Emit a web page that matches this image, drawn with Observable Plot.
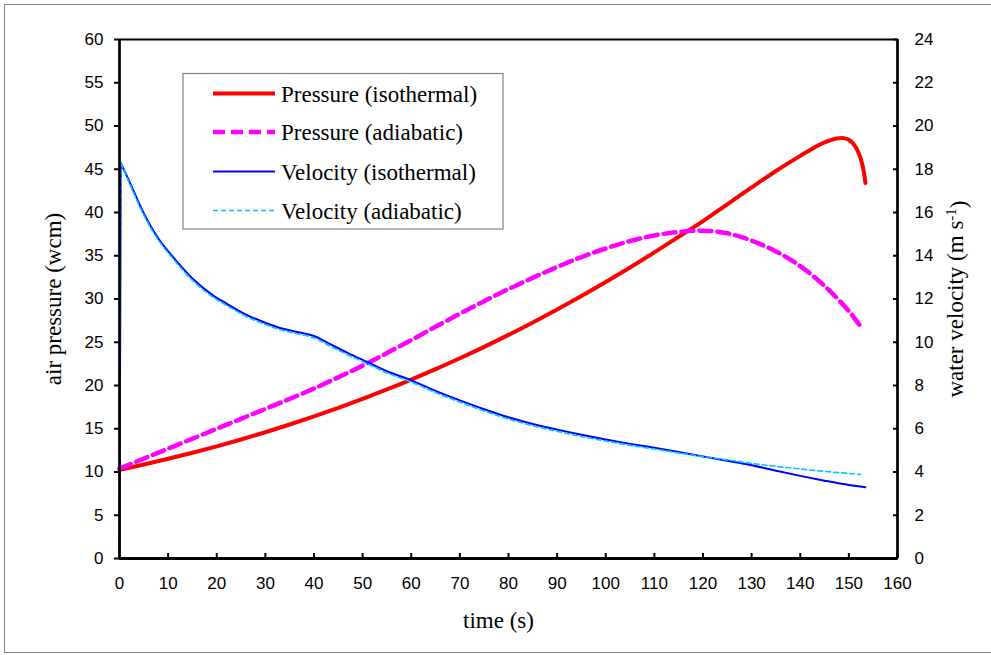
<!DOCTYPE html>
<html><head><meta charset="utf-8">
<script src="https://cdn.jsdelivr.net/npm/d3@7"></script>
<script src="https://cdn.jsdelivr.net/npm/@observablehq/plot@0.6"></script>
<style>
html,body{margin:0;padding:0;background:#fff;}
#wrap{position:relative;width:991px;height:655px;overflow:hidden;background:#fff;}
#border{position:absolute;left:4px;top:4px;width:1010px;height:649px;border:1.5px solid #808080;box-sizing:border-box;pointer-events:none;}
#legend{position:absolute;left:0;top:0;pointer-events:none;}
</style></head><body><div id="wrap"><div id="border"></div></div>
<script>
// time ticks / axis ticks
const xTicks = [0,10,20,30,40,50,60,70,80,90,100,110,120,130,140,150,160];
const yTicksLeft = [0,5,10,15,20,25,30,35,40,45,50,55,60];
const velocityToPressure = 60 / 24; // right axis 0-24 m/s shares the 0-60 wcm frame

// Pressure (isothermal), wcm
const tPressIso = [0,5,10,15,20,25,30,35,40,45,50,55,60,65,70,75,80,85,90,95,100,105,110,115,120,125,130,135,140,143,145,147.5,149,150,151,152,152.7,153.1,153.4];
const pressIso  = [10.25,10.87,11.53,12.23,12.97,13.76,14.6,15.49,16.43,17.42,18.46,19.55,20.69,21.89,23.15,24.47,25.85,27.29,28.79,30.35,31.97,33.65,35.39,37.19,39.0,40.95,42.9,44.8,46.55,47.55,48.1,48.55,48.6,48.4,47.9,46.9,45.7,44.6,43.4];

// Pressure (adiabatic), wcm
const tPressAdi = [0,5,10,15,20,25,30,35,40,45,50,55,60,65,70,75,80,85,90,95,100,105,110,115,120,125,130,135,140,145,150,152.3];
const pressAdi  = [10.4,11.55,12.7,13.85,15.0,16.15,17.3,18.45,19.65,20.95,22.3,23.75,25.25,26.8,28.3,29.75,31.15,32.45,33.7,34.85,35.85,36.7,37.35,37.75,37.9,37.6,36.75,35.5,33.8,31.5,28.6,26.9];

// Velocity (isothermal), m/s
const tVelIso = [0,0.25,2,5,8,12,15,19,22,26,30,33,36,40,43,47,51,55,60,65,70,75,80,85,90,95,100,105,110,115,120,125,130,135,140,145,150,153.4];
const velIso  = [0,18.3,17.45,15.96,14.8,13.68,12.95,12.2,11.79,11.28,10.9,10.66,10.5,10.29,9.95,9.5,9.08,8.66,8.24,7.75,7.31,6.9,6.53,6.22,5.96,5.72,5.5,5.3,5.12,4.92,4.72,4.52,4.31,4.06,3.82,3.6,3.4,3.3];

// Velocity (adiabatic), m/s
const tVelAdi = [0,0.25,2,5,8,12,15,19,22,26,30,33,36,40,43,47,51,55,60,65,70,75,80,85,90,95,100,105,110,115,120,125,130,135,140,145,150,152.4];
const velAdi  = [0,18.3,17.38,15.88,14.72,13.6,12.86,12.12,11.71,11.2,10.82,10.58,10.42,10.2,9.86,9.41,9.0,8.58,8.16,7.67,7.23,6.82,6.45,6.14,5.88,5.64,5.43,5.23,5.06,4.88,4.71,4.56,4.4,4.26,4.14,4.03,3.93,3.89];

const legendLabels = ["Pressure (isothermal)","Pressure (adiabatic)","Velocity (isothermal)","Velocity (adiabatic)"];

const styles = [
  {stroke:"#FF0000", strokeWidth:4, dash:null},
  {stroke:"#FF00FF", strokeWidth:4.5, dash:"12,6"},
  {stroke:"#0000FF", strokeWidth:2, dash:null},
  {stroke:"#00C8FF", strokeWidth:1.6, dash:"5,3"}
];

const zip = (ts, vs) => ts.map((t,i) => ({t, v: vs[i]}));
const dPI = zip(tPressIso, pressIso);
const dPA = zip(tPressAdi, pressAdi);
const dVI = zip(tVelIso, velIso);
const dVA = zip(tVelAdi, velAdi);

const serif = "'Liberation Serif','Times New Roman',serif";
const sans = "'Liberation Sans',Arial,sans-serif";
const vy = d => d.v * velocityToPressure;

const chart = Plot.plot({
  width: 991, height: 655,
  marginLeft: 119, marginRight: 94, marginTop: 39, marginBottom: 97,
  x: {domain: [0,160]},
  y: {domain: [0,60]},
  style: {background: "transparent", fontFamily: sans, color: "#000"},
  marks: [
    Plot.axisX({ticks: xTicks, tickSize: -5, tickPadding: 23, fontSize: 17, strokeWidth: 2, label: null}),
    Plot.axisY({ticks: yTicksLeft, tickSize: 5, tickPadding: 11, fontSize: 17, strokeWidth: 2, label: null}),
    Plot.axisY({ticks: yTicksLeft, anchor: "right", tickSize: -5, tickPadding: 22, fontSize: 17, strokeWidth: 2, label: null,
      tickFormat: d => String(d / velocityToPressure)}),
    Plot.line(dPI, {x: "t", y: "v", stroke: styles[0].stroke, strokeWidth: styles[0].strokeWidth, curve: "catmull-rom"}),
    Plot.line(dPA, {x: "t", y: "v", stroke: styles[1].stroke, strokeWidth: styles[1].strokeWidth, strokeDasharray: styles[1].dash, curve: "catmull-rom"}),
    // initial jump (straight) and decay (smooth)
    Plot.line(dVI.slice(0, 2), {x: "t", y: vy, stroke: styles[2].stroke, strokeWidth: styles[2].strokeWidth}),
    Plot.line(dVI.slice(1), {x: "t", y: vy, stroke: styles[2].stroke, strokeWidth: styles[2].strokeWidth, curve: "catmull-rom"}),
    Plot.line(dVA.slice(0, 2), {x: "t", y: vy, stroke: styles[3].stroke, strokeWidth: styles[3].strokeWidth, strokeDasharray: styles[3].dash}),
    Plot.line(dVA.slice(1), {x: "t", y: vy, stroke: styles[3].stroke, strokeWidth: styles[3].strokeWidth, strokeDasharray: styles[3].dash, curve: "catmull-rom"}),
    Plot.ruleY([60], {stroke: "#000", strokeWidth: 2}),
    Plot.ruleY([0], {stroke: "#000", strokeWidth: 3}),
    Plot.ruleX([0, 160], {stroke: "#000", strokeWidth: 2.7}),
    Plot.text(["time (s)"], {frameAnchor: "bottom", dy: 62, dx: -10, lineAnchor: "middle", textAnchor: "middle", fontFamily: serif, fontSize: 23, fill: "#000"}),
    Plot.text(["air pressure (wcm)"], {frameAnchor: "left", dx: -66, rotate: -90, lineAnchor: "middle", textAnchor: "middle", fontFamily: serif, fontSize: 23, fill: "#000"}),
    Plot.text(["water velocity (m s-1)"], {frameAnchor: "right", dx: 58, rotate: -90, lineAnchor: "middle", textAnchor: "middle", fontFamily: serif, fontSize: 23, fill: "#000"})
  ]
});
document.getElementById("wrap").appendChild(chart);

// superscript in right title
d3.select(chart).selectAll("text").filter(function(){ return this.textContent === "water velocity (m s-1)"; })
  .each(function(){
    const t = d3.select(this);
    t.text(null);
    t.append("tspan").text("water velocity (m s");
    t.append("tspan").attr("dy", "-0.45em").attr("font-size", "15px").text("-1");
    t.append("tspan").attr("dy", "0.45em").text(")");
  });

// legend overlay
const lg = d3.select("#wrap").append("svg").attr("id","legend").attr("width",991).attr("height",655);
lg.append("rect").attr("x",183).attr("y",73.5).attr("width",320).attr("height",155.5)
  .attr("fill","#fff").attr("stroke","#808080").attr("stroke-width",1.2);
const rowY = [93.5, 132, 171.5, 210.5];
legendLabels.forEach((lab, i) => {
  const s = styles[i];
  const ln = lg.append("line").attr("x1",213).attr("x2",275).attr("y1",rowY[i]).attr("y2",rowY[i])
    .attr("stroke",s.stroke).attr("stroke-width",s.strokeWidth);
  if (s.dash) ln.attr("stroke-dasharray", s.dash);
  lg.append("text").attr("x",281).attr("y",rowY[i]).attr("dy","0.35em")
    .attr("font-family",serif).attr("font-size",23).attr("fill","#000").text(lab);
});
</script>
</body></html>
